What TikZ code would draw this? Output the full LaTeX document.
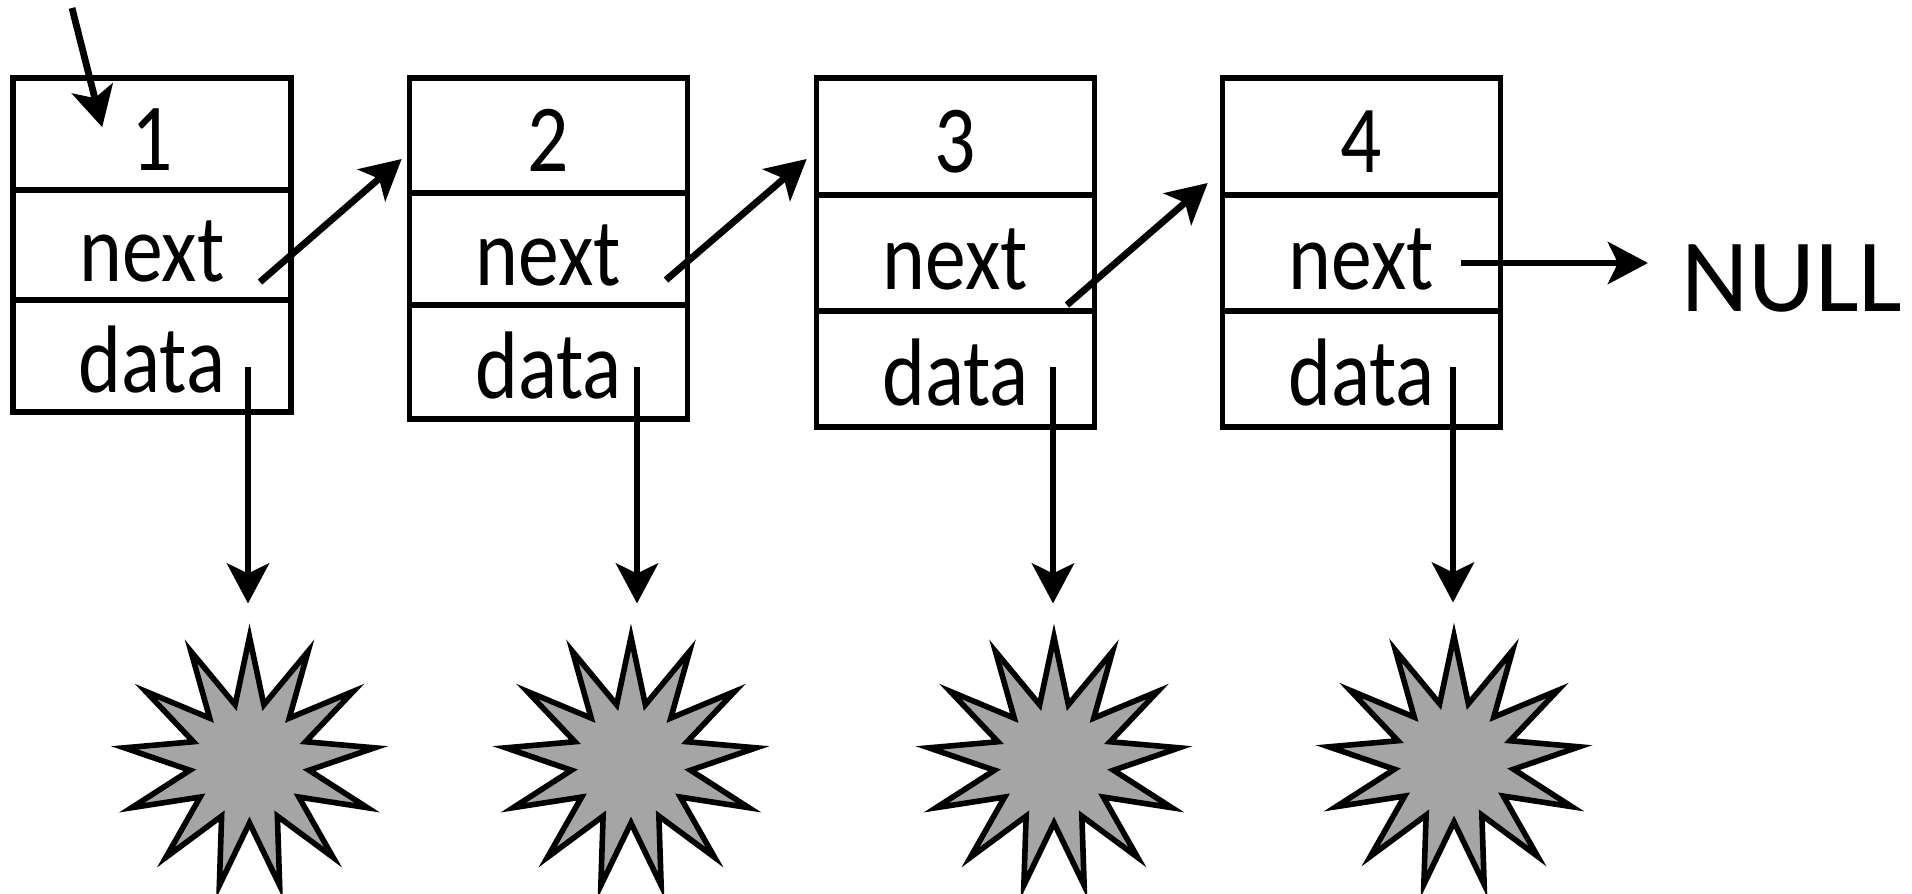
\documentclass[tikz,border=0pt]{standalone}
\usepackage{fontspec}
\setmainfont{Carlito}
\newfontfamily\cellfont{Carlito}[FakeStretch=0.85]
\usetikzlibrary{arrows.meta,shapes.geometric,calc}
\definecolor{blobgray}{RGB}{165,165,165}
\tikzset{
  cell/.style={draw, line width=2.8pt, inner sep=0pt, minimum width=139pt,
    text height=36pt, text depth=0pt, font=\cellfont\fontsize{48pt}{52pt}\selectfont},
  link/.style={line width=3.4pt, -{Stealth[length=20pt,width=21pt,inset=5pt]}},
  blob/.style={star, star points=13, star point ratio=2.1, minimum size=126pt,
    inner sep=0pt, draw, line width=2.8pt, fill=blobgray},
  nulltext/.style={inner sep=0pt, font=\fontsize{52pt}{56pt}\selectfont}
}
\begin{document}
\begin{tikzpicture}[x=0.5pt, y=-0.5pt]
\useasboundingbox (0,0) rectangle (1912,894);

% list cells: value / next / data
\node[cell, minimum height=56pt]   (v1) at (152,134)   {1};
\node[cell, minimum height=55pt]   (n1) at (152,245)   {next};
\node[cell, minimum height=56pt]   (d1) at (152,356)   {data};

\node[cell, minimum height=57.5pt] (v2) at (548.5,135.5) {2};
\node[cell, minimum height=56pt]   (n2) at (548.5,249)   {next};
\node[cell, minimum height=57pt]   (d2) at (548.5,362)   {data};

\node[cell, minimum height=58.5pt] (v3) at (955.5,136.5) {3};
\node[cell, minimum height=58pt]   (n3) at (955.5,253)   {next};
\node[cell, minimum height=58pt]   (d3) at (955.5,369)   {data};

\node[cell, minimum height=58.5pt] (v4) at (1361.5,136.5) {4};
\node[cell, minimum height=58pt]   (n4) at (1361.5,253)   {next};
\node[cell, minimum height=58pt]   (d4) at (1361.5,369)   {data};

\node[nulltext, anchor=base] (null) at (1792,311) {NULL};

% payload blobs
\node[blob] (s1) at (249.5,763) {};
\node[blob] (s2) at (631,763) {};
\node[blob] (s3) at (1054,763) {};
\node[blob] (s4) at (1454,762) {};

% head pointer
\coordinate (head) at (72,8);
\draw[link] (head) -- ($(v1.north west)+(92,52)$);

% next pointers
\draw[link] ($(n1.center)+(108,37)$)   -- ($(v2.west)+(-5,23.5)$);
\draw[link] ($(n2.center)+(117.5,31)$) -- ($(v3.west)+(-7,22.5)$);
\draw[link] ($(n3.center)+(111.5,52)$) -- ($(v4.west)+(-12,46.5)$);
\coordinate (p4) at ($(n4.center)+(99.5,10)$);
\draw[link] (p4) -- ($(p4 -| null.west)+(-33,0)$);

% data pointers
\coordinate (ds1) at ($(d1.center)+(96,11)$);
\coordinate (ds2) at ($(d2.center)+(88.5,5)$);
\coordinate (ds3) at ($(d3.center)+(97.5,-2)$);
\coordinate (ds4) at ($(d4.center)+(91.5,-2)$);
\foreach \i in {1,...,4}{
  \draw[link] (ds\i) -- ($(ds\i |- s\i.north)+(0,-20)$);
}
\end{tikzpicture}
\end{document}
